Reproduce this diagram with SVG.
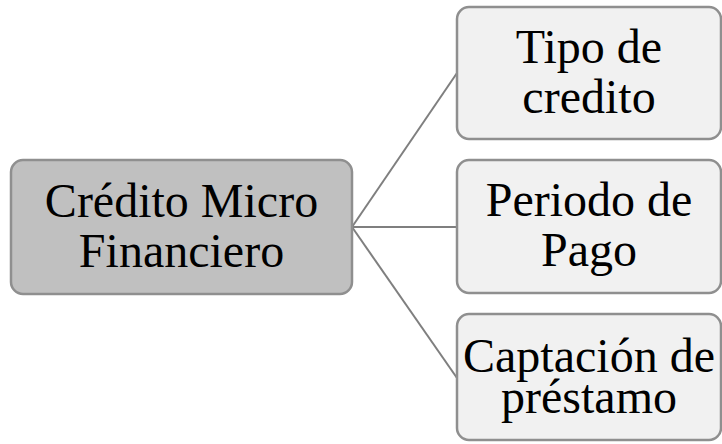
<svg xmlns="http://www.w3.org/2000/svg" width="722" height="444" viewBox="0 0 722 444">
<style>
.box{stroke:#8f8f8f;stroke-width:2.5}
.main{fill:#c0c0c0}
.child{fill:#f1f1f1}
.conn{stroke:#7f7f7f;stroke-width:2;fill:none}
.t{font-size:48px;fill:#000;text-anchor:middle}
</style>
<rect width="722" height="444" fill="#fff"/>
<g id="connectors">
<line class="conn" x1="352" y1="227" x2="457" y2="73"/>
<line class="conn" x1="352" y1="227" x2="457" y2="227"/>
<line class="conn" x1="352" y1="227" x2="457" y2="378"/>
</g>
<g font-family="'Liberation Serif', 'Times New Roman', 'DejaVu Serif', serif">
<g id="node-main">
<rect class="box main" x="11" y="160" width="341" height="134" rx="12"/>
<text class="t" x="181.5" y="217">Crédito Micro</text>
<text class="t" x="181.5" y="267">Financiero</text>
</g>
<g id="node-tipo">
<rect class="box child" x="457" y="7" width="264" height="132" rx="12"/>
<text class="t" x="589" y="63">Tipo de</text>
<text class="t" x="589" y="113">credito</text>
</g>
<g id="node-periodo">
<rect class="box child" x="457" y="160" width="264" height="133" rx="12"/>
<text class="t" x="589" y="216">Periodo de</text>
<text class="t" x="589" y="266">Pago</text>
</g>
<g id="node-captacion">
<rect class="box child" x="457" y="314" width="264" height="126" rx="12"/>
<text class="t" x="589" y="372">Captación de</text>
<text class="t" x="589" y="413">préstamo</text>
</g>
</g>
</svg>
